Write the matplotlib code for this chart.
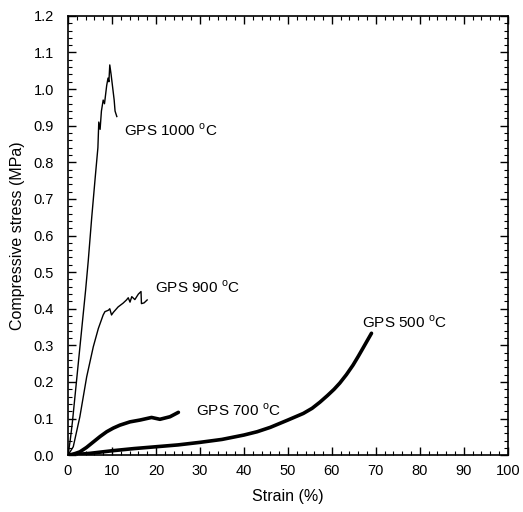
import numpy as np
import matplotlib.pyplot as plt
from matplotlib.ticker import MultipleLocator, FormatStrFormatter

plt.rcParams['font.family'] = ['Liberation Sans', 'DejaVu Sans']

# strain (%) / compressive stress (MPa)
gps1000_x = [0, 0.5, 1, 2, 3, 4, 4.6, 5.4, 6.2, 6.8, 7.0, 7.3, 7.6, 8.0, 8.3, 8.8,
             9.1, 9.3, 9.5, 9.8, 10.2, 10.5, 10.7, 11.1]
gps1000_y = [0, 0.04, 0.09, 0.21, 0.33, 0.45, 0.53, 0.65, 0.76, 0.84, 0.91, 0.89,
             0.94, 0.97, 0.96, 1.01, 1.03, 1.02, 1.066, 1.04, 1.0, 0.97, 0.94, 0.925]

gps900_x = [0, 1.2, 2.7, 4.25, 5.75, 6.9, 8.0, 8.4, 9.2, 9.5, 9.9, 10.3, 11.4, 12.5,
            13.3, 13.7, 14.1, 14.5, 15.2, 16.0, 16.6, 16.7, 17.3, 18.0]
gps900_y = [0, 0.023, 0.105, 0.214, 0.296, 0.346, 0.383, 0.392, 0.396, 0.40, 0.383,
            0.39, 0.405, 0.415, 0.424, 0.43, 0.418, 0.433, 0.425, 0.44, 0.447, 0.414,
            0.416, 0.424]

gps700_x = [0, 0.5, 1.5, 2.7, 4.2, 5.75, 7.3, 8.8, 10.3, 11.8, 14.1, 16.4, 19.0, 20.9,
            23.2, 25.1]
gps700_y = [0, 0.001, 0.004, 0.009, 0.021, 0.036, 0.051, 0.064, 0.074, 0.082, 0.091,
            0.096, 0.103, 0.098, 0.105, 0.117]

gps500_x = [0, 2, 5, 10, 15, 20, 25, 30, 35, 40, 43, 46, 50, 53.5, 55.5, 57.3, 59,
            60.5, 61.8, 63.3, 64.8, 66, 67.1, 68, 69]
gps500_y = [0, 0.002, 0.005, 0.012, 0.018, 0.023, 0.028, 0.035, 0.043, 0.055, 0.064,
            0.076, 0.096, 0.114, 0.128, 0.145, 0.163, 0.180, 0.197, 0.220, 0.246,
            0.270, 0.293, 0.312, 0.333]

labels = ['GPS 1000', 'GPS 900', 'GPS 700', 'GPS 500']
label_x = [12.7, 19.8, 29.1, 66.8]
label_y = [0.888, 0.459, 0.123, 0.364]

fig = plt.figure(figsize=(5.23, 5.12), dpi=100)
ax = fig.add_axes([0.130, 0.111, 0.841, 0.858])

ax.plot(gps1000_x, gps1000_y, color='black', lw=1.0)
ax.plot(gps900_x, gps900_y, color='black', lw=1.0)
ax.plot(gps700_x, gps700_y, color='black', lw=2.6, solid_capstyle='round')
ax.plot(gps500_x, gps500_y, color='black', lw=2.6, solid_capstyle='round')

for name, lx, ly in zip(labels, label_x, label_y):
    ax.text(lx, ly, name + r' $^{\mathregular{o}}$C', fontsize=11, va='center', ha='left')

ax.set_xlim(0, 100)
ax.set_ylim(0, 1.2)
ax.xaxis.set_major_locator(MultipleLocator(10))
ax.xaxis.set_minor_locator(MultipleLocator(2))
ax.yaxis.set_major_locator(MultipleLocator(0.1))
ax.yaxis.set_minor_locator(MultipleLocator(0.02))
ax.yaxis.set_major_formatter(FormatStrFormatter('%.1f'))
ax.tick_params(which='both', direction='in', top=True, right=True, labelsize=10.5)
ax.tick_params(which='major', length=6, width=1)
ax.tick_params(which='minor', length=3, width=0.8)
ax.tick_params(axis='y', pad=10)
ax.tick_params(axis='x', pad=6)
for s in ax.spines.values():
    s.set_linewidth(1.2)

ax.set_xlabel('Strain (%)', fontsize=11.5, labelpad=8)
ax.set_ylabel('Compressive stress (MPa)', fontsize=11.5, labelpad=6)

fig.savefig('out.png', dpi=100)
